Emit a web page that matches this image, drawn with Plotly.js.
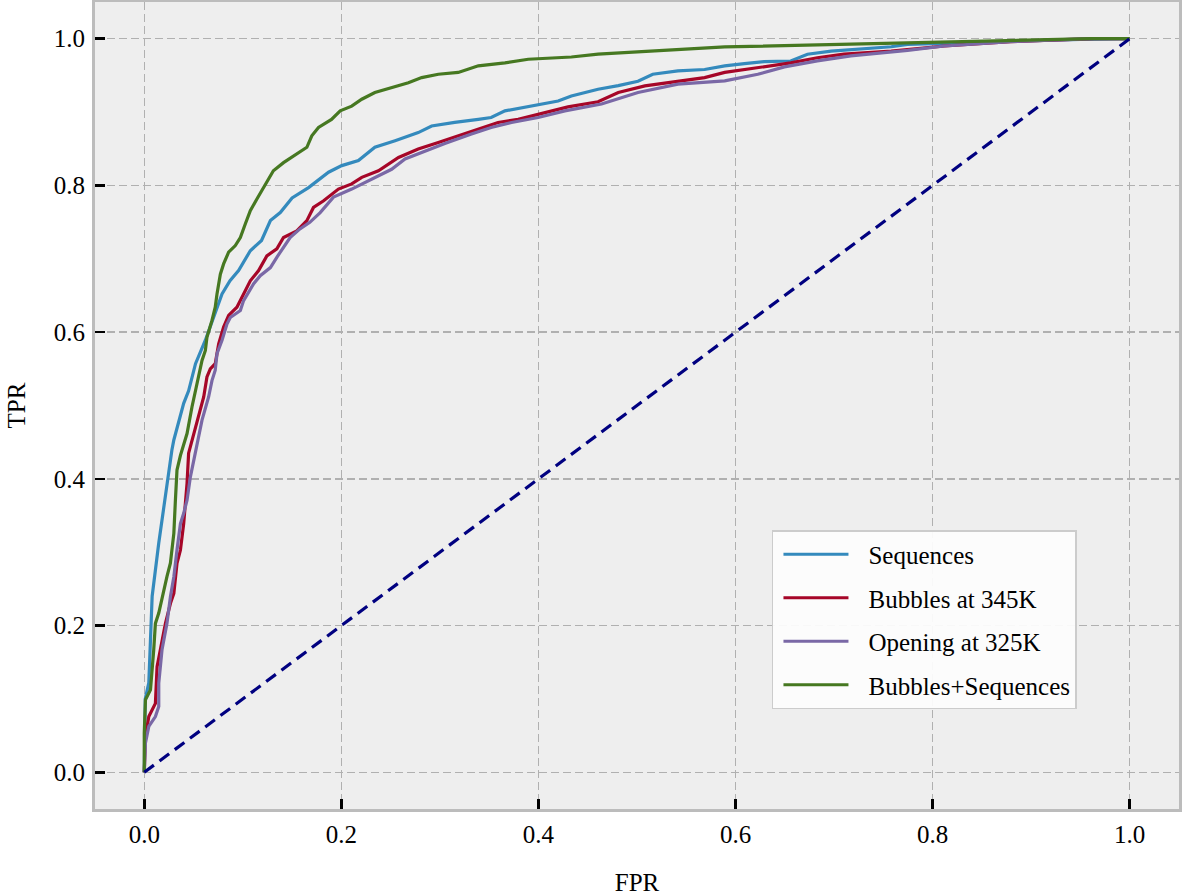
<!DOCTYPE html>
<html>
<head>
<meta charset="utf-8">
<script src="https://cdn.plot.ly/plotly-3.0.1.min.js"></script>
<style>
  html, body { margin: 0; padding: 0; background: #ffffff; }
  #chart { width: 1182px; height: 896px; }
</style>
</head>
<body>
<div id="chart"></div>
<script>
// ---- Data ----
const seriesNames = ["Sequences", "Bubbles at 345K", "Opening at 325K", "Bubbles+Sequences"];
const seriesColors = ["#348ABD", "#A60628", "#7A68A6", "#467821"];

const seqFPR = [0,0.001,0.0046,0.008,0.0147,0.023,0.028,0.030,0.040,0.045,0.052,0.062,0.0704,0.0789,0.087,0.0957,0.1076,0.119,0.128,0.138,0.150,0.1667,0.187,0.2004,0.2173,0.234,0.2545,0.278,0.2916,0.315,0.339,0.352,0.366,0.393,0.420,0.4334,0.4605,0.481,0.501,0.516,0.5415,0.5686,0.589,0.609,0.629,0.656,0.673,0.697,0.724,0.758,0.7746,0.812,0.88,0.95,1];
const seqTPR = [0,0.10,0.122,0.24,0.3125,0.394,0.439,0.453,0.503,0.52,0.557,0.589,0.62,0.652,0.67,0.684,0.711,0.725,0.752,0.763,0.783,0.797,0.818,0.827,0.834,0.852,0.861,0.872,0.881,0.886,0.890,0.8925,0.9016,0.908,0.915,0.922,0.931,0.936,0.942,0.9515,0.956,0.958,0.963,0.966,0.9687,0.9696,0.9788,0.983,0.986,0.989,0.9923,0.9937,0.997,0.999,1];

const bubFPR = [0,0.0012,0.0046,0.0113,0.013,0.0164,0.0215,0.0265,0.030,0.0332,0.0367,0.040,0.0417,0.0434,0.045,0.0484,0.0552,0.0603,0.0636,0.067,0.072,0.0755,0.0805,0.0856,0.094,0.1008,0.1076,0.116,0.1244,0.1345,0.1413,0.1548,0.165,0.1717,0.182,0.197,0.2105,0.2207,0.2376,0.258,0.278,0.2984,0.3186,0.339,0.359,0.3794,0.3997,0.430,0.4605,0.481,0.508,0.5415,0.5686,0.589,0.6226,0.656,0.683,0.710,0.758,0.812,0.879,0.964,1];
const bubTPR = [0,0.049,0.076,0.094,0.144,0.167,0.203,0.23,0.244,0.285,0.303,0.339,0.3665,0.394,0.435,0.4527,0.489,0.5116,0.539,0.55,0.557,0.584,0.607,0.6227,0.634,0.652,0.670,0.684,0.704,0.7135,0.729,0.738,0.752,0.770,0.779,0.795,0.802,0.811,0.820,0.838,0.8495,0.8585,0.8676,0.8767,0.8857,0.890,0.897,0.907,0.914,0.9266,0.9356,0.9425,0.947,0.954,0.9605,0.967,0.974,0.979,0.983,0.990,0.996,1.0,1];

const opnFPR = [0,0.0012,0.0046,0.0113,0.0147,0.0147,0.018,0.023,0.0265,0.030,0.0332,0.0367,0.040,0.0434,0.0468,0.052,0.0586,0.0653,0.0687,0.072,0.0738,0.0789,0.0839,0.0873,0.0975,0.1008,0.111,0.1177,0.128,0.1345,0.1413,0.148,0.158,0.168,0.1785,0.192,0.2105,0.2308,0.251,0.2646,0.285,0.305,0.332,0.352,0.3727,0.3997,0.4268,0.44,0.464,0.501,0.5415,0.589,0.6226,0.6496,0.683,0.717,0.7746,0.812,0.879,0.96,1];
const opnTPR = [0,0.04,0.0626,0.076,0.0898,0.1216,0.167,0.203,0.239,0.2667,0.303,0.339,0.353,0.371,0.4027,0.435,0.48,0.5116,0.534,0.548,0.5706,0.589,0.611,0.62,0.6295,0.643,0.666,0.677,0.688,0.702,0.7156,0.729,0.7407,0.7497,0.763,0.784,0.795,0.8087,0.822,0.836,0.847,0.857,0.870,0.879,0.8857,0.8925,0.9016,0.905,0.911,0.9266,0.938,0.9425,0.9515,0.9615,0.9697,0.9765,0.984,0.990,0.996,1.0,1];

const combFPR = [0,0,0.0012,0.0063,0.0096,0.0113,0.0147,0.0198,0.023,0.0265,0.0282,0.030,0.0316,0.0332,0.0367,0.0434,0.0484,0.0519,0.0552,0.0586,0.062,0.0636,0.0687,0.072,0.0738,0.0772,0.0805,0.0856,0.0924,0.0975,0.1025,0.1076,0.1143,0.121,0.1244,0.131,0.1413,0.1515,0.165,0.170,0.1768,0.190,0.1988,0.2105,0.2207,0.234,0.251,0.268,0.2815,0.2984,0.3186,0.339,0.366,0.3896,0.4334,0.4605,0.589,0.7746,0.879,0.96,1];
const combTPR = [0,0.054,0.099,0.1125,0.167,0.203,0.217,0.2486,0.2667,0.285,0.303,0.3257,0.371,0.412,0.432,0.4618,0.498,0.5207,0.543,0.5615,0.575,0.593,0.616,0.634,0.652,0.679,0.693,0.709,0.718,0.729,0.7475,0.7656,0.7815,0.797,0.806,0.820,0.831,0.840,0.852,0.8676,0.879,0.890,0.9016,0.908,0.9175,0.9266,0.9333,0.940,0.947,0.9515,0.954,0.963,0.967,0.972,0.975,0.979,0.9887,0.9946,0.998,1.0,1];

const chanceFPR = [0, 1];
const chanceTPR = [0, 1];

const xTicks = [0.0, 0.2, 0.4, 0.6, 0.8, 1.0];
const yTicks = [0.0, 0.2, 0.4, 0.6, 0.8, 1.0];
const xLabel = "FPR";
const yLabel = "TPR";

// ---- Build traces ----
const xs = [seqFPR, bubFPR, opnFPR, combFPR];
const ys = [seqTPR, bubTPR, opnTPR, combTPR];
const FONT = "'Liberation Serif', 'Times New Roman', serif";

const traces = seriesNames.map((name, i) => ({
  type: "scatter", mode: "lines",
  x: xs[i], y: ys[i], name: name,
  legendgroup: "g" + i,
  line: { color: seriesColors[i], width: 3.2 }
}));
traces.push({
  type: "scatter", mode: "lines",
  x: chanceFPR, y: chanceTPR, showlegend: false,
  line: { color: "#000080", width: 3.2, dash: "12px,7px" }
});

const axisCommon = {
  showline: true, linecolor: "#bcbcbc", linewidth: 3, mirror: true,
  showgrid: true, gridcolor: "#b0b0b0", gridwidth: 1.5, griddash: "8px,4px",
  zeroline: false,
  ticks: "inside", ticklen: 10, tickwidth: 2.5, tickcolor: "#000000",
  tickfont: { family: FONT, size: 25, color: "#000000" },
  tickformat: ".1f"
};

const layout = {
  width: 1182, height: 896,
  paper_bgcolor: "#ffffff", plot_bgcolor: "#eeeeee",
  margin: { l: 95, r: 3, t: 2, b: 87 },
  font: { family: FONT, size: 25, color: "#000000" },
  xaxis: Object.assign({}, axisCommon, {
    range: [-0.05, 1.05], tickvals: xTicks,
    ticklabelstandoff: 1,
    title: { text: xLabel, font: { family: FONT, size: 25 }, standoff: 32 }
  }),
  yaxis: Object.assign({}, axisCommon, {
    range: [-0.05, 1.05], tickvals: yTicks,
    ticklabelstandoff: 2,
    title: { text: yLabel, font: { family: FONT, size: 25 }, standoff: 22 }
  }),
  legend: {
    x: 0.6245, y: 0.3457, xanchor: "left", yanchor: "top",
    bgcolor: "rgba(252,252,252,0.95)", bordercolor: "#cccccc", borderwidth: 1.5,
    font: { family: FONT, size: 25, color: "#000000" },
    tracegroupgap: 8, itemwidth: 85
  },
  showlegend: true
};

Plotly.newPlot("chart", traces, layout, { displayModeBar: false, staticPlot: true }).then(() => {
  // lengthen legend line samples to match the reference look
  document.querySelectorAll(".legend .legendlines path").forEach(p => p.setAttribute("d", "M10,0h65"));
});
</script>
</body>
</html>
